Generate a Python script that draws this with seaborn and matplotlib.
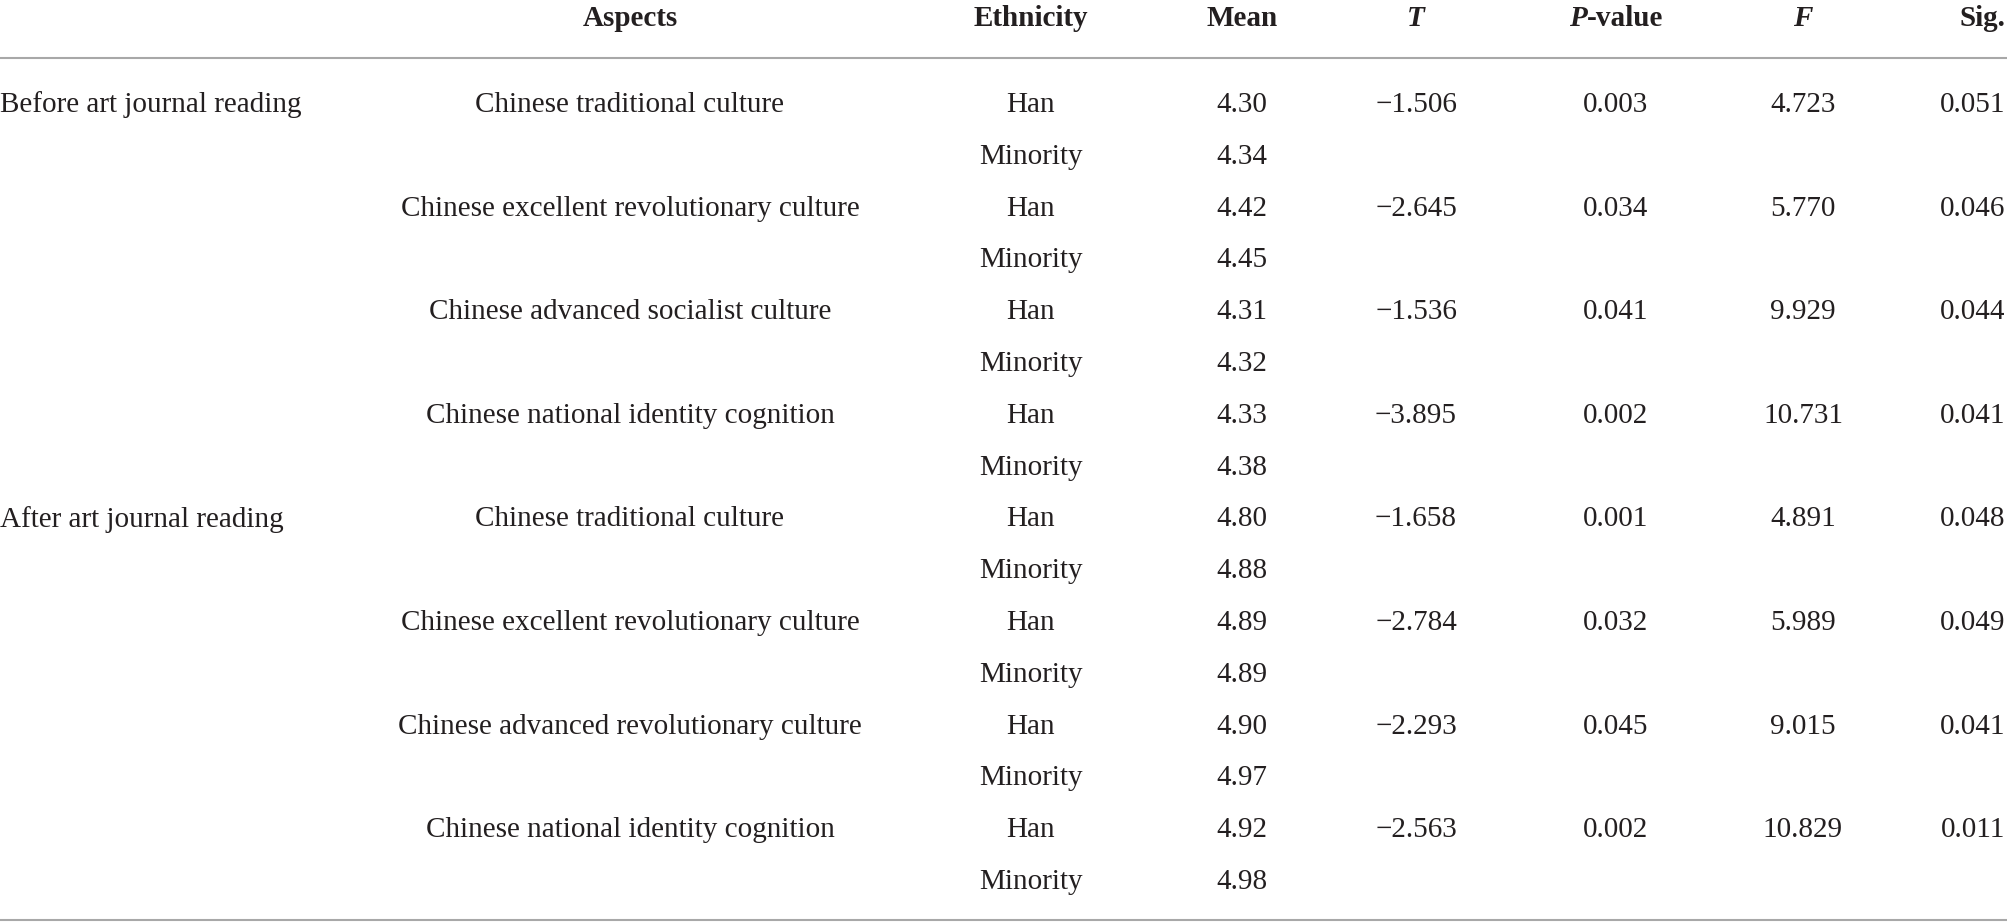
import matplotlib
matplotlib.use("Agg")
import matplotlib.pyplot as plt
import seaborn as sns

# Table data
phases = ["Before art journal reading", "After art journal reading"]
aspects = [
    "Chinese traditional culture",
    "Chinese excellent revolutionary culture",
    "Chinese advanced socialist culture",
    "Chinese national identity cognition",
    "Chinese traditional culture",
    "Chinese excellent revolutionary culture",
    "Chinese advanced revolutionary culture",
    "Chinese national identity cognition",
]
ethnicities = ["Han", "Minority"]
means = [4.30, 4.34, 4.42, 4.45, 4.31, 4.32, 4.33, 4.38,
         4.80, 4.88, 4.89, 4.89, 4.90, 4.97, 4.92, 4.98]
t_vals = [-1.506, -2.645, -1.536, -3.895, -1.658, -2.784, -2.293, -2.563]
p_vals = [0.003, 0.034, 0.041, 0.002, 0.001, 0.032, 0.045, 0.002]
f_vals = [4.723, 5.770, 9.929, 10.731, 4.891, 5.989, 9.015, 10.829]
sig_vals = [0.051, 0.046, 0.044, 0.041, 0.048, 0.049, 0.041, 0.011]

sns.set_style("white")
plt.rcParams["font.family"] = ["Liberation Serif", "DejaVu Serif"]

W, H = 2008, 922
fig = plt.figure(figsize=(W / 100, H / 100), dpi=100)
ax = fig.add_axes([0, 0, 1, 1])
ax.set_xlim(0, W)
ax.set_ylim(H, 0)
ax.axis("off")

ink = "#231f20"
rule = "#a8a8a8"

# column centres (pixels); Sig. is right-aligned at the page edge
col_aspect = 630
col_eth = 1031
col_mean = 1242
col_t = 1416
col_p = 1616
col_f = 1803
col_sig_right = 2005

header_y = 19
row0 = 105
step = 51.8

# fit font size so a known string matches its width in the reference
renderer = fig.canvas.get_renderer()
probe = ax.text(0, 0, "Chinese excellent revolutionary culture", fontsize=10)
w10 = probe.get_window_extent(renderer).width
probe.remove()
fs = 10 * 458 / w10


def fmt(v, nd):
    s = f"{abs(v):.{nd}f}"
    return ("\u2212" + s) if v < 0 else s


# header
hkw = dict(fontsize=fs, fontweight="bold", color=ink, va="center")
ax.text(col_aspect, header_y, "Aspects", ha="center", **hkw)
ax.text(col_eth, header_y, "Ethnicity", ha="center", **hkw)
ax.text(col_mean, header_y, "Mean", ha="center", **hkw)
ax.text(col_t, header_y, "T", ha="center", style="italic", **hkw)
ax.text(col_f, header_y, "F", ha="center", style="italic", **hkw)
ax.text(col_sig_right, header_y, "Sig.", ha="right", **hkw)

# P-value: italic P + bold "-value", centred together
tp = ax.text(0, 0, "P", style="italic", **hkw)
tv = ax.text(0, 0, "-value", **hkw)
wp = tp.get_window_extent(renderer).width
wv = tv.get_window_extent(renderer).width
tp.remove()
tv.remove()
left = col_p - (wp + wv) / 2
ax.text(left, header_y, "P", ha="left", style="italic", **hkw)
ax.text(left + wp, header_y, "-value", ha="left", **hkw)

# rules
ax.axhline(58, color=rule, lw=1.5)
ax.axhline(919.5, color=rule, lw=1.5)

# body
bkw = dict(fontsize=fs, color=ink, va="center")
for i, ph in enumerate(phases):
    ax.text(0, row0 + i * 8 * step, ph, ha="left", **bkw)

for i in range(len(aspects)):
    y = row0 + 2 * i * step
    ax.text(col_aspect, y, aspects[i], ha="center", **bkw)
    ax.text(col_t, y, fmt(t_vals[i], 3), ha="center", **bkw)
    ax.text(col_p, y, fmt(p_vals[i], 3), ha="center", **bkw)
    ax.text(col_f, y, fmt(f_vals[i], 3), ha="center", **bkw)
    ax.text(col_sig_right, y, fmt(sig_vals[i], 3), ha="right", **bkw)

for j, m in enumerate(means):
    y = row0 + j * step
    ax.text(col_eth, y, ethnicities[j % 2], ha="center", **bkw)
    ax.text(col_mean, y, fmt(m, 2), ha="center", **bkw)

fig.savefig("out.png", dpi=100)
